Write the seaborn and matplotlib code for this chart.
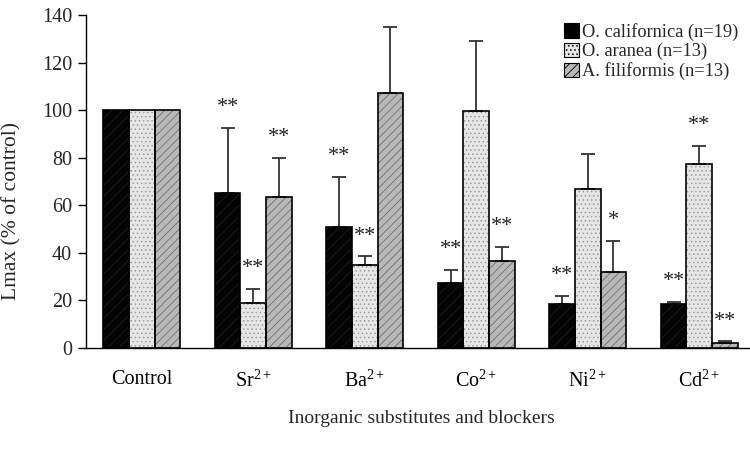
import numpy as np
import pandas as pd
import matplotlib
matplotlib.use("Agg")
import matplotlib.pyplot as plt
import seaborn as sns
from matplotlib.patches import Rectangle, Patch
from matplotlib.container import BarContainer

categories = ["Control", "Sr$^{2+}$", "Ba$^{2+}$", "Co$^{2+}$", "Ni$^{2+}$", "Cd$^{2+}$"]
species = ["O. californica (n=19)", "O. aranea (n=13)", "A. filiformis (n=13)"]

cal_mean = [100, 65, 51, 27.5, 18.5, 18.5]
cal_err = [0, 27.5, 21, 5.5, 3.5, 1]
ara_mean = [100, 19, 35, 99.5, 67, 77.5]
ara_err = [0, 6, 3.5, 29.5, 14.5, 7.5]
fil_mean = [100, 63.5, 107, 36.5, 32, 2]
fil_err = [0, 16.5, 28, 6, 13, 0.8]

cal_sig = ["", "**", "**", "**", "**", "**"]
ara_sig = ["", "**", "**", "", "", "**"]
fil_sig = ["", "**", "", "**", "*", "**"]

means = [cal_mean, ara_mean, fil_mean]
errs = [cal_err, ara_err, fil_err]
sigs = [cal_sig, ara_sig, fil_sig]

rows = []
for s, m in zip(species, means):
    for c, v in zip(categories, m):
        rows.append({"cat": c, "val": v, "sp": s})
df = pd.DataFrame(rows)

sns.set_theme(style="white")
plt.rcParams["font.family"] = ["Liberation Serif", "DejaVu Serif"]
plt.rcParams["mathtext.fontset"] = "custom"
plt.rcParams["mathtext.rm"] = "Liberation Serif"
plt.rcParams["mathtext.it"] = "Liberation Serif"
plt.rcParams["hatch.linewidth"] = 0.6

face = ["#030303", "#e6e6e6", "#b8b8b8"]
hatch_col = ["#1e1e1e", "#9c9c9c", "#6e6e6e"]
hatches = ["///", "....", "////"]

fig = plt.figure(figsize=(7.5, 4.51), dpi=100)
ax = fig.add_axes([86 / 750, 103 / 451, 669 / 750, 333 / 451])

sns.barplot(data=df, x="cat", y="val", hue="sp", order=categories, hue_order=species,
            palette=face, errorbar=None, width=0.687, saturation=1, legend=False, ax=ax)

bar_conts = [c for c in ax.containers if isinstance(c, BarContainer)]
for i, cont in enumerate(bar_conts):
    for j, p in enumerate(cont.patches):
        p.set_hatch(hatches[i])
        p.set_edgecolor(hatch_col[i])
        p.set_linewidth(0)
        x0, y0 = p.get_x(), p.get_y()
        w, h = p.get_width(), p.get_height()
        ax.add_patch(Rectangle((x0, y0), w, h, fill=False, edgecolor="black", lw=1.2, zorder=3))
        xc = x0 + w / 2
        e = errs[i][j]
        if e > 0:
            ax.errorbar([xc], [h], yerr=[[0], [e]], fmt="none", ecolor="#333333",
                        elinewidth=1.3, capsize=5, capthick=1.3, zorder=2)
        if sigs[i][j]:
            ax.text(xc, h + e + 8.5, sigs[i][j], ha="center", va="center", fontsize=16,
                    color="#222222")

ax.set_xlim(-0.5, 5.5)
ax.set_ylim(0, 140)
ax.set_yticks(np.arange(0, 141, 20))
ax.set_xticks(range(len(categories)))
ax.set_xticklabels(categories)
ax.set_xticks(np.arange(-0.5, 5.6, 1), minor=True)
ax.tick_params(axis="x", which="major", length=0, pad=16, labelsize=14.5, colors="black")
ax.tick_params(axis="x", which="minor", length=7, width=1, direction="out", color="black")
ax.tick_params(axis="y", length=6, width=1, direction="out", labelsize=14.5, pad=4, color="black")
ax.tick_params(axis="both", bottom=True, left=True)
for sp in ["top", "right"]:
    ax.spines[sp].set_visible(False)
for sp in ["left", "bottom"]:
    ax.spines[sp].set_color("black")
    ax.spines[sp].set_linewidth(1)

ax.set_xlabel("Inorganic substitutes and blockers", fontsize=14)
ax.set_ylabel("Lmax (% of control)", fontsize=15.5)
ax.yaxis.set_label_coords(-65 / 669, 0.41)
ax.xaxis.set_label_coords((421 - 86) / 669, -(410 - 348) / 333)

handles = [Patch(facecolor=face[i], edgecolor="black", hatch=hatches[i], lw=0.8) for i in range(3)]
leg = fig.legend(handles, species, loc="upper left", bbox_to_anchor=(564 / 750, 1 - 23 / 451),
                 frameon=False, fontsize=13.2, handlelength=0.8, handleheight=0.8,
                 handletextpad=0.2, labelspacing=0.1, borderpad=0, borderaxespad=0)

fig.savefig("out.png", dpi=100)
